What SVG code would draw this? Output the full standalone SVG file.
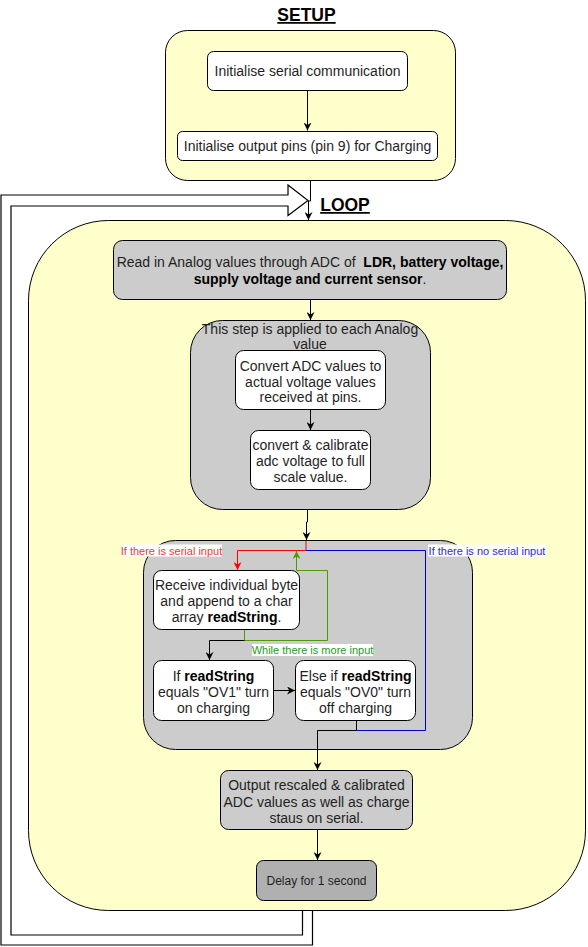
<svg xmlns="http://www.w3.org/2000/svg" width="588" height="947" viewBox="0 0 588 947">
<defs>
<style>
text{font-family:"Liberation Sans",Arial,sans-serif;fill:#1f1f1f}
.t14{font-size:14px;text-anchor:middle}
.t12{font-size:12px;text-anchor:middle}
.lbl{font-size:11px;text-anchor:middle}
.title{font-size:17.5px;font-weight:bold;text-anchor:middle;text-decoration:underline;fill:#000}
.b{font-weight:bold;fill:#000}
.yel{fill:#FFFFCC;stroke:#000;stroke-width:1}
.gray{fill:#CCCCCC;stroke:#000;stroke-width:1}
.white{fill:#FFFFFF;stroke:#000;stroke-width:1}
.dgray{fill:#B0B0B0;stroke:#000;stroke-width:1}
.c{fill:none;stroke:#000;stroke-width:1}
</style>
<marker id="ab" viewBox="0 0 10 10" refX="10" refY="5" markerWidth="8" markerHeight="8" markerUnits="userSpaceOnUse" orient="auto"><path d="M0,0 L10,5 L0,10 L3,5 Z" fill="#000"/></marker>
<marker id="ar" viewBox="0 0 10 10" refX="10" refY="5" markerWidth="8" markerHeight="8" markerUnits="userSpaceOnUse" orient="auto"><path d="M0,0 L10,5 L0,10 L3,5 Z" fill="#FF0000"/></marker>
<marker id="ag" viewBox="0 0 10 10" refX="10" refY="5" markerWidth="8" markerHeight="8" markerUnits="userSpaceOnUse" orient="auto"><path d="M0,0 L10,5 L0,10 L3,5 Z" fill="#4D9900"/></marker>
</defs>
<rect width="588" height="947" fill="#FFFFFF"/>

<!-- loop-back wide arrow -->
<g id="loopback">
<path d="M302.5,910 V935 H11 V206 H288 V215.5 L308,200.5 L288,185 V195 H1 V945 H312.5 V910 Z" fill="#FFFFFF" stroke="#000" stroke-width="1.2"/>
</g>

<!-- SETUP -->
<g id="setup-title"><text class="title" x="306.5" y="21">SETUP</text></g>
<g id="setup"><rect class="yel" x="165.5" y="30.5" width="290" height="150" rx="22"/></g>
<g id="init-serial"><rect class="white" x="207.5" y="51.5" width="200" height="39" rx="6"/><text class="t14" x="307.5" y="76">Initialise serial communication</text></g>
<g id="init-pins"><rect class="white" x="177.5" y="131.5" width="260" height="29" rx="5"/><text class="t14" x="307.5" y="151">Initialise output pins (pin 9) for Charging</text></g>

<!-- LOOP -->
<g id="loop-title"><text class="title" x="345" y="211">LOOP</text></g>
<g id="loop"><rect class="yel" x="28.5" y="220.5" width="557" height="690" rx="80"/></g>

<g id="read-analog"><rect class="gray" x="113.5" y="240.5" width="393" height="59" rx="9"/>
<text class="t14" x="310" y="267" xml:space="preserve">Read in Analog values through ADC of  <tspan class="b">LDR, battery voltage,</tspan></text>
<text class="t14" x="310" y="284"><tspan class="b">supply voltage and current sensor</tspan>.</text></g>

<g id="per-value"><rect class="gray" x="190.5" y="320.5" width="240" height="189" rx="32"/>
<text class="t14" x="310" y="334">This step is applied to each Analog</text>
<text class="t14" x="310" y="349">value</text></g>

<g id="convert-adc"><rect class="white" x="235.5" y="350.5" width="150" height="59" rx="8"/>
<text class="t14" x="310.5" y="371">Convert ADC values to</text>
<text class="t14" x="310.5" y="386.5">actual voltage values</text>
<text class="t14" x="310.5" y="402">received at pins.</text></g>

<g id="calibrate"><rect class="white" x="250.5" y="430.5" width="120" height="59" rx="8"/>
<text class="t14" x="310.5" y="449.5">convert &amp; calibrate</text>
<text class="t14" x="310.5" y="465.5">adc voltage to full</text>
<text class="t14" x="310.5" y="481.5">scale value.</text></g>

<g id="serial-block"><rect class="gray" x="143.5" y="540.5" width="329" height="209" rx="32"/></g>

<g id="receive"><rect class="white" x="153.5" y="570.5" width="146" height="59" rx="8"/>
<text class="t14" x="226.5" y="590">Receive individual byte</text>
<text class="t14" x="226.5" y="606">and append to a char</text>
<text class="t14" x="226.5" y="622">array <tspan class="b">readString</tspan>.</text></g>

<g id="if-ov1"><rect class="white" x="153.5" y="660.5" width="120" height="60" rx="8"/>
<text class="t14" x="213.5" y="681">If <tspan class="b">readString</tspan></text>
<text class="t14" x="213.5" y="697">equals "OV1" turn</text>
<text class="t14" x="213.5" y="713">on charging</text></g>

<g id="else-ov0"><rect class="white" x="295.5" y="660.5" width="120" height="60" rx="8"/>
<text class="t14" x="355.5" y="681">Else if <tspan class="b">readString</tspan></text>
<text class="t14" x="355.5" y="697">equals "OV0" turn</text>
<text class="t14" x="355.5" y="713">off charging</text></g>

<g id="output"><rect class="gray" x="220.5" y="770.5" width="192" height="59" rx="8"/>
<text class="t14" x="316.5" y="790">Output rescaled &amp; calibrated</text>
<text class="t14" x="316.5" y="806.5">ADC values as well as charge</text>
<text class="t14" x="316.5" y="823">staus on serial.</text></g>

<g id="delay"><rect class="dgray" x="256.5" y="860.5" width="120" height="40" rx="7"/>
<text class="t12" x="316.5" y="885">Delay for 1 second</text></g>

<!-- connectors -->
<g id="connectors">
<path class="c" d="M307.5,91 V130.5" marker-end="url(#ab)"/>
<path class="c" d="M310.5,181 V201 H308.5 V220" marker-end="url(#ab)"/>
<path class="c" d="M310.5,300 V320" marker-end="url(#ab)"/>
<path class="c" d="M310.5,410 V430" marker-end="url(#ab)"/>
<path class="c" d="M307.5,510 V522 H306.5 V540" marker-end="url(#ab)"/>
<path d="M306,541 V550.5 H237.5 V570" fill="none" stroke="#FF0000" stroke-width="1" marker-end="url(#ar)"/>
<path d="M306,550.5 H425.5 V730.5 H356" fill="none" stroke="#0000CC" stroke-width="1"/>
<path d="M244.5,630 V640.5 H327.5 V570.5 H296.5 V551" fill="none" stroke="#4D9900" stroke-width="1" marker-end="url(#ag)"/>
<path class="c" d="M244.5,640.5 H209.5 V660" marker-end="url(#ab)"/>
<path class="c" d="M273.5,690.5 H295" marker-end="url(#ab)"/>
<path class="c" d="M356.5,721 V730.5 H317.5 V770" marker-end="url(#ab)"/>
<path class="c" d="M317.5,830 V860" marker-end="url(#ab)"/>
</g>

<!-- connector labels -->
<g id="labels">
<rect x="121" y="544.5" width="101" height="12" fill="#FFFFFF"/>
<text class="lbl" x="171.5" y="554.5" style="fill:#E83A3A">If there is serial input</text>
<rect x="428" y="544.5" width="118" height="12" fill="#FFFFFF"/>
<text class="lbl" x="487" y="554.5" style="fill:#2B2BD9">If there is no serial input</text>
<rect x="252" y="644" width="121" height="12" fill="#FFFFFF"/>
<text class="lbl" x="312.5" y="654" style="fill:#1E9A1E">While there is more input</text>
</g>
</svg>
